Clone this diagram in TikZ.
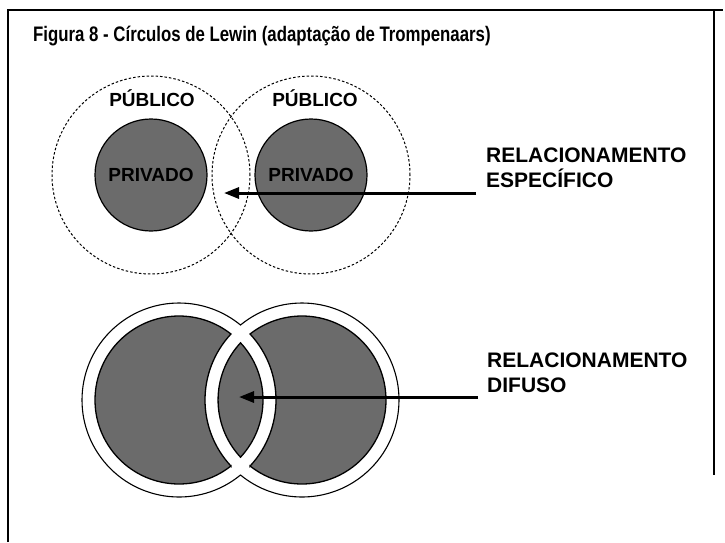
\documentclass[tikz,border=0pt]{standalone}
\usepackage{fontspec}
\setmainfont{Liberation Sans}
\newfontfamily\titlefont[FakeStretch=0.80]{Liberation Sans}
\usetikzlibrary{arrows.meta}
\tikzset{
  frameline/.style={line width=1.2pt, black},
  pubcircle/.style={circle, draw, line width=1pt, dash pattern=on 2.5pt off 2pt, inner sep=0pt},
  privcircle/.style={circle, draw, line width=1.2pt, fill=black!58, inner sep=0pt, font=\fontsize{19}{22}\selectfont\bfseries},
  shade/.style={draw, line width=1.3pt, fill=black!58},
  outline/.style={draw, line width=1.1pt},
  publabel/.style={font=\fontsize{19}{22}\selectfont\bfseries, inner sep=0pt},
  rellabel/.style={font=\fontsize{21}{25}\selectfont\bfseries, align=left, inner sep=0pt, anchor=base west},
  bigarrow/.style={line width=3pt, -{Triangle[length=15pt,width=11pt]}}
}
\begin{document}
\begin{tikzpicture}[x=1pt,y=-1pt]
\useasboundingbox (0,0) rectangle (725,542);
% frame
\coordinate (fTL) at (8,10);
\coordinate (fTR) at (723,10);
\coordinate (fBL) at (8,542);
\coordinate (fRt) at (714,10);
\coordinate (fRb) at (714,475);
\draw[frameline] (fBL) -- (fTL) -- (fTR);
\draw[frameline] (fRt) -- (fRb);
% title
\node[anchor=base west, inner sep=0pt, font=\titlefont\fontsize{21}{24}\selectfont\bfseries] (title) at (33,41) {Figura 8 - Círculos de Lewin (adaptação de Trompenaars)};
% top: specific relationship
\node[pubcircle, minimum size=198pt] (pubL) at (151,175) {};
\node[pubcircle, minimum size=198pt] (pubR) at (311,175) {};
\node[privcircle, minimum size=112pt] (privL) at (151,175) {PRIVADO};
\node[privcircle, minimum size=112pt] (privR) at (311,175) {PRIVADO};
\node[publabel, anchor=base] (pubtL) at (152,106) {PÚBLICO};
\node[publabel, anchor=base] (pubtR) at (315,106) {PÚBLICO};
\node[rellabel] (relA) at (486,187) {RELACIONAMENTO\\ESPECÍFICO};
\coordinate (tailA) at (476,193);
\coordinate (tipA) at (224,193);
\draw[bigarrow] (tailA) -- (tipA);
% bottom: diffuse relationship
\draw[outline] (179,400) ++(50.65:97) arc[start angle=50.65, end angle=309.35, radius=97]
  arc[start angle=230.65, end angle=489.35, radius=97] -- cycle;
\draw[shade] (179,400) ++(51.8:84) arc[start angle=51.8, end angle=308.2, radius=84]
  arc[start angle=222.9, end angle=137.1, radius=97] -- cycle;
\draw[shade] (302,400) ++(128.2:84) arc[start angle=128.2, end angle=-128.2, radius=84]
  arc[start angle=-42.9, end angle=42.9, radius=97] -- cycle;
\draw[shade] (179,400) ++(-42.9:84) arc[start angle=-42.9, end angle=42.9, radius=84]
  arc[start angle=137.1, end angle=222.9, radius=84] -- cycle;
\node[rellabel] (relB) at (487,392) {RELACIONAMENTO\\DIFUSO};
\coordinate (tailB) at (478,397);
\coordinate (tipB) at (239,397);
\draw[bigarrow] (tailB) -- (tipB);
\end{tikzpicture}
\end{document}
